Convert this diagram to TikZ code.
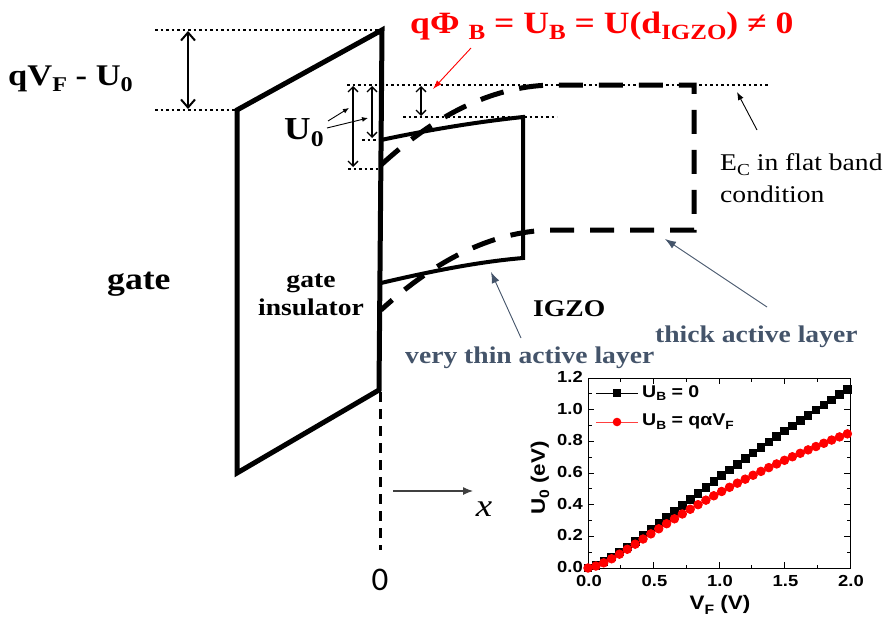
\documentclass[tikz,border=0pt]{standalone}
\usepackage{fontspec}
\usepackage{graphicx}
\setmainfont{Liberation Serif}[FakeStretch=1.15]
\newfontfamily\arl{Liberation Sans}[FakeStretch=1.15]
\newfontfamily\carl{Carlito}
\usetikzlibrary{arrows.meta,plotmarks}
\definecolor{slate}{HTML}{44546A}
\definecolor{pured}{HTML}{FF0000}
\newcommand\fsz[1]{\fontsize{#1}{#1}\selectfont}
\newcommand\sub[1]{\raisebox{-0.22em}{\scalebox{0.7}{#1}}}
\begin{document}
\begin{tikzpicture}[x=1pt,y=-1pt,
  lab/.style={inner sep=0pt, anchor=base west},
  outl/.style={line width=5pt, line join=miter},
  igzo/.style={line width=4pt},
  thickdash/.style={line width=5pt, dash pattern=on 24pt off 16pt},
  dots/.style={line width=2.5pt, dash pattern=on 2.5pt off 3pt},
  dbl/.style={line width=1.3pt, {Straight Barb[length=5pt,width=10pt]}-{Straight Barb[length=5pt,width=10pt]}},
  bigdbl/.style={line width=2pt, {Straight Barb[length=8pt,width=14pt]}-{Straight Barb[length=8pt,width=14pt]}},
  thinarr/.style={line width=0.9pt, -{Latex[length=8pt,width=6pt]}},
  tick/.style={line width=0.8pt}
]
\useasboundingbox (0,0) rectangle (890,621);

% ---------- gate insulator ----------
\coordinate (ins1) at (237,110);
\coordinate (ins2) at (382,30);
\coordinate (ins3) at (379,390);
\coordinate (ins4) at (237,473);
\draw[outl] (ins1) -- (ins2) -- (ins3) -- (ins4) -- cycle;

% axis origin dashed line
\coordinate (z0) at (380,392);
\coordinate (z1) at (380,550);
\draw[line width=3pt, dash pattern=on 10pt off 7pt] (z0) -- (z1);
\node[font=\carl\fsz{33}, inner sep=0pt] (zero) at (380,580) {0};
\coordinate (xa0) at (393,491);
\coordinate (xa1) at (473,491);
\draw[line width=1.1pt, black!75, -{Latex[length=10pt,width=8pt]}] (xa0) -- (xa1);
\node[font=\itshape\fsz{32}, inner sep=0pt] (xl) at (484,509) {x};

% ---------- dotted reference lines ----------
\coordinate (d1a) at (155,30);  \coordinate (d1b) at (380,30);
\coordinate (d2a) at (155,110); \coordinate (d2b) at (236,110);
\coordinate (d3a) at (347,85);  \coordinate (d3b) at (770,85);
\coordinate (d4a) at (403,117); \coordinate (d4b) at (557,117);
\coordinate (d5a) at (362,140); \coordinate (d5b) at (379,140);
\coordinate (d6a) at (348,169); \coordinate (d6b) at (378,169);
\foreach \p in {1,...,6} {\draw[dots] (d\p a) -- (d\p b);}

% ---------- double arrows ----------
\coordinate (a1a) at (188,31);  \coordinate (a1b) at (188,109);
\draw[bigdbl] (a1a) -- (a1b);
\coordinate (a2a) at (353,86);  \coordinate (a2b) at (353,167);
\draw[dbl] (a2a) -- (a2b);
\coordinate (a3a) at (372,86);  \coordinate (a3b) at (372,138);
\draw[dbl] (a3a) -- (a3b);
\coordinate (a4a) at (421,86);  \coordinate (a4b) at (421,116);
\draw[dbl] (a4a) -- (a4b);

% ---------- IGZO thin layer (solid) ----------
\coordinate (t0) at (381,140);
\coordinate (t1) at (523,117);
\coordinate (t2) at (523,258);
\coordinate (t3) at (381,283);
\draw[igzo, line join=miter] (t0) .. controls (428,130) and (476,122) .. (t1) -- (t2)
   .. controls (476,262) and (428,272) .. (t3);

% ---------- thick active layer (dashed) ----------
\coordinate (k0) at (381,165);
\coordinate (k1) at (555,85);
\coordinate (k2) at (694,85);
\coordinate (k3) at (694,230);
\coordinate (k4) at (555,230);
\coordinate (k5) at (381,310);
\draw[thickdash] (k0) .. controls (439,111.7) and (497,85) .. (k1) -- (k2) -- (k3) -- (k4)
   .. controls (497,230) and (439,256.7) .. (k5);

% ---------- labels ----------
\node[lab, font=\bfseries\fsz{30}] (lqv) at (8,85) {qV\sub{F} - U\sub{0}};
\node[lab, font=\bfseries\fsz{32}] (lu0) at (284,139) {U\sub{0}};
\coordinate (u0a) at (328,121); \coordinate (u0b) at (349,108);
\coordinate (u0c) at (327,128); \coordinate (u0d) at (368,118);
\draw[line width=0.9pt, -{Latex[length=6pt,width=5pt]}] (u0a) -- (u0b);
\draw[line width=0.9pt, -{Latex[length=6pt,width=5pt]}] (u0c) -- (u0d);

\node[lab, font=\bfseries\fsz{31}, text=pured] (lred) at (410,33)
  {qΦ \sub{B} = U\sub{B} = U(d\sub{IGZO}) ≠ 0};
\coordinate (ra) at (471,48); \coordinate (rb) at (433,89);
\draw[pured, line width=0.9pt, -{Latex[length=9pt,width=6pt]}] (ra) -- (rb);

\node[lab, font=\fsz{24}] (lec1) at (720,170) {E\sub{C} in flat band};
\node[lab, font=\fsz{24}] (lec2) at (720,202) {condition};
\coordinate (ea) at (757,130); \coordinate (eb) at (737,92);
\draw[thinarr] (ea) -- (eb);

\node[lab, font=\bfseries\fsz{31}] (lgate) at (107,289) {gate};
\node[inner sep=0pt, anchor=base, font=\bfseries\fsz{24}] (lgi1) at (311,287) {gate};
\node[inner sep=0pt, anchor=base, font=\bfseries\fsz{24}] (lgi2) at (311,315) {insulator};
\node[lab, font=\bfseries\fsz{24}] (ligzo) at (533,316) {IGZO};

\node[lab, font=\bfseries\fsz{24}, text=slate] (lthick) at (655,342) {thick active layer};
\node[lab, font=\bfseries\fsz{24}, text=slate] (lthin) at (405,363) {very thin active layer};
\coordinate (ta) at (767,307); \coordinate (tb) at (665,239);
\draw[slate, line width=0.9pt, -{Latex[length=11pt,width=8pt]}] (ta) -- (tb);
\coordinate (na) at (521,338); \coordinate (nb) at (491,272);
\draw[slate, line width=0.9pt, -{Latex[length=11pt,width=8pt]}] (na) -- (nb);

% ---------- inset plot ----------
\coordinate (pbl) at (588,568);
\coordinate (ptr) at (850,378);
\draw[line width=1pt] (pbl) rectangle (ptr);
\foreach \i in {1,...,11} {
  \pgfmathsetmacro\yy{568-158.33*\i/10}
  \pgfmathsetmacro\tl{ifthenelse(mod(\i,2)==0,6,3.5)}
  \draw[tick] (588,\yy) -- ++(\tl,0);
  \draw[tick] (850,\yy) -- ++(-\tl,0);
}
\foreach \i in {1,...,7} {
  \pgfmathsetmacro\xx{588+131*\i/4}
  \pgfmathsetmacro\tl{ifthenelse(mod(\i,2)==0,6,3.5)}
  \draw[tick] (\xx,568) -- ++(0,-\tl);
  \draw[tick] (\xx,378) -- ++(0,\tl);
}
\foreach \lab [count=\k from 0] in {0.0,0.2,0.4,0.6,0.8,1.0,1.2} {
  \node[font=\arl\bfseries\fsz{16}, anchor=east, inner sep=0pt] (yl\k) at (583,{567-158.33*\k/5}) {\lab};
}
\foreach \lab [count=\k from 0] in {0.0,0.5,1.0,1.5,2.0} {
  \node[font=\arl\bfseries\fsz{16}, anchor=north, inner sep=0pt] (xl\k) at ({589+65.5*\k},575) {\lab};
}
\node[font=\arl\bfseries\fsz{19.5}, inner sep=0pt] (xlab) at (720,605) {V\sub{F} (V)};
\node[font=\arl\bfseries\fsz{19.5}, inner sep=0pt, rotate=90] (ylab) at (540,478) {U\sub{0} (eV)};

\draw[black, line width=0.8pt, mark=square*, mark size=3.8pt, mark options={fill=black}]
  plot[domain=0:1.98, samples=34] ({588+131*\x},{568-158.33*(\x*(0.62-0.378*exp(-\x/0.36)-0.025*\x))});
\draw[pured, line width=0.8pt, mark=*, mark size=4.3pt, mark options={fill=pured, draw=pured}]
  plot[domain=0:1.98, samples=34] ({588+131*\x},{568-158.33*(\x*(0.537-0.417*exp(-\x/0.25)-0.055*\x))});

% legend
\coordinate (lg1a) at (596,393); \coordinate (lg1b) at (638,393);
\draw[line width=0.9pt] (lg1a) -- (lg1b);
\fill (613.2,389.2) rectangle (620.8,396.8);
\node[font=\arl\bfseries\fsz{17}, anchor=west, inner sep=0pt] (lgt1) at (642,393) {U\sub{B} = 0};
\coordinate (lg2a) at (596,422); \coordinate (lg2b) at (638,422);
\draw[line width=0.9pt, pured!75] (lg2a) -- (lg2b);
\fill[pured] (617,422) circle (4.3pt);
\node[font=\arl\bfseries\fsz{17}, anchor=west, inner sep=0pt] (lgt2) at (642,422) {U\sub{B} = qαV\sub{F}};
\end{tikzpicture}
\end{document}
